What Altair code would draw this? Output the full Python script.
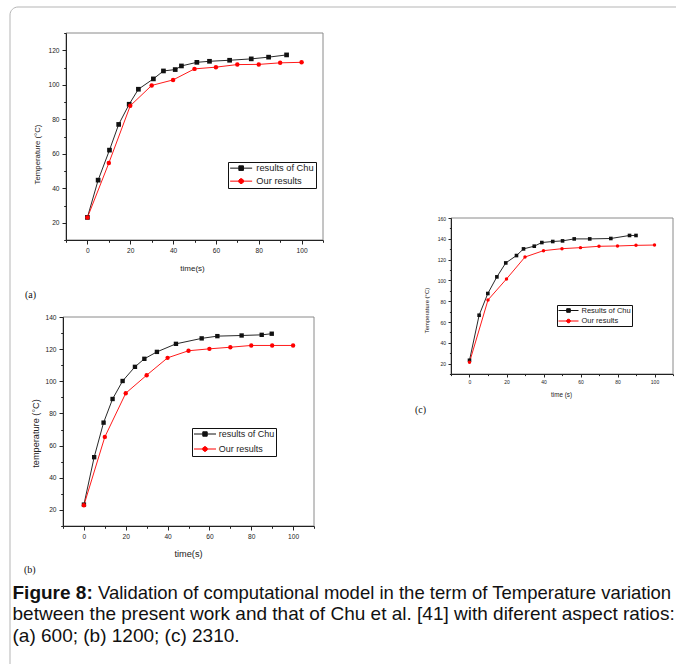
import altair as alt
import pandas as pd

# ---------------- data ----------------
NAMES_AB = ["results of Chu", "Our results"]
NAMES_C = ["Results of Chu", "Our results"]

a_chu_t = [0, 5.0, 10.3, 14.6, 19.5, 23.8, 30.8, 35.5, 41.0, 43.9, 51.1, 57.0, 66.4, 76.5, 84.6, 93.0]
a_chu_T = [23.1, 44.7, 62.1, 77.0, 88.7, 97.4, 103.4, 108.0, 108.8, 110.9, 113.0, 113.6, 114.2, 115.0, 116.0, 117.3]
a_our_t = [0, 10, 20, 30, 40, 50, 60, 70, 80, 90, 100]
a_our_T = [23.0, 54.6, 87.8, 99.6, 102.8, 109.2, 110.2, 111.7, 111.8, 112.7, 113.0]

b_chu_t = [0, 4.9, 9.4, 13.7, 18.5, 24.4, 28.9, 34.9, 44.0, 56.3, 63.8, 75.4, 85.0, 89.8]
b_chu_T = [23.3, 52.8, 74.3, 89.0, 100.2, 109.0, 114.0, 118.3, 123.3, 126.7, 128.1, 128.5, 128.9, 129.6]
b_our_t = [0, 10, 20, 30, 40, 50, 60, 70, 80, 90, 100]
b_our_T = [22.9, 65.4, 92.6, 103.8, 114.6, 119.0, 120.2, 121.2, 122.3, 122.3, 122.3]

c_chu_t = [0, 5.2, 9.9, 14.8, 19.6, 25.4, 29.2, 35.0, 39.1, 45.0, 50.3, 56.6, 65.0, 76.4, 86.5, 90.0]
c_chu_T = [23.2, 66.5, 87.4, 103.4, 116.8, 123.9, 130.3, 132.9, 136.4, 137.4, 138.0, 139.9, 139.9, 140.3, 143.2, 143.2]
c_our_t = [0, 10, 20, 30, 40, 50, 60, 70, 80, 90, 100]
c_our_T = [21.3, 81.2, 101.4, 122.5, 128.6, 130.5, 131.5, 132.8, 133.1, 133.7, 134.0]

X_DOMAIN = [-10, 110]
YDOM_A = [10, 130]
YDOM_B = [10, 140]
YDOM_C = [10, 160]

CAPTION_BOLD = "Figure 8:"
CAPTION_1 = "Validation of computational model in the term of Temperature variation"
CAPTION_2 = "between the present work and that of Chu et al. [41] with diferent aspect ratios:"
CAPTION_3 = "(a) 600; (b) 1200; (c) 2310."

# ---------------- styling ----------------
FONT = "Liberation Sans, Arial, sans-serif"
SERIF = "Liberation Serif, Times New Roman, serif"
INK = "#222222"
BLACK = "#111111"
RED = "#ff0000"
W, H = 676, 664
DUMMY = pd.DataFrame({"k": [0]})


def legend_paths(L, h_sq, r_oct, unit=4.0):
    end = (L - unit) / unit
    cx = (L / 2 - unit) / unit
    h = h_sq / unit
    sq = f"M-1,0H{end:.3f}M{cx - h:.3f},{-h:.3f}H{cx + h:.3f}V{h:.3f}H{cx - h:.3f}Z"
    r = r_oct / unit
    a, b = 0.924 * r, 0.383 * r
    pts = [(a, b), (b, a), (-b, a), (-a, b), (-a, -b), (-b, -a), (b, -a), (a, -b)]
    oc = "M-1,0H%.3f" % end + "M" + "L".join(f"{cx + px:.3f},{py:.3f}" for px, py in pts) + "Z"
    return sq, oc


def panel(cfg):
    xs = alt.Scale(domain=X_DOMAIN, range=cfg["xr"], nice=False, zero=False)
    ys = alt.Scale(domain=cfg["ydom"], range=cfg["yr"], nice=False, zero=False)
    x_off = -(H - cfg["yr"][0])
    y_off = -cfg["xr"][0]
    common = dict(labelFont=FONT, labelColor=INK, labelFontSize=cfg["lfs"],
                  domainColor=INK, tickColor=INK, domainWidth=1, tickWidth=1,
                  grid=False, labelOverlap=False, labelFlush=False, zindex=1,
                  titleFont=FONT, titleColor=INK, titleFontWeight="normal")
    lo, hi = cfg["ydom"]
    y_major = [v for v in range(lo, hi + 1, 10) if v % 20 == 0]
    y_minor = [v for v in range(lo, hi + 1, 10) if v % 20 != 0]
    x_major = [0, 20, 40, 60, 80, 100]
    x_minor = [-10, 10, 30, 50, 70, 90, 110]

    ax_x = alt.Axis(orient="bottom", offset=x_off, values=x_major, tickSize=cfg["tmaj"],
                    labelPadding=cfg["lpad"], title=cfg["xtitle"], titleFontSize=cfg["xtfs"],
                    titleX=cfg["xtx"], titleY=cfg["xty"], titleBaseline="alphabetic",
                    titleAlign="center", format="d", **common)
    ax_y = alt.Axis(orient="left", offset=y_off, values=y_major, tickSize=cfg["tmaj"],
                    labelPadding=cfg["lpad"], title=cfg["ytitle"], titleFontSize=cfg["ytfs"],
                    titleX=cfg["ytx"] - cfg["xr"][0], titleY=cfg["yty"], titleAngle=-90,
                    titleBaseline="middle", titleAlign="center", format="d", **common)
    ax_x_min = alt.Axis(orient="bottom", offset=x_off, values=x_minor, tickSize=cfg["tmin"],
                        labels=False, domain=False, title=None, tickColor=INK, tickWidth=1,
                        grid=False, zindex=1)
    ax_y_min = alt.Axis(orient="left", offset=y_off, values=y_minor, tickSize=cfg["tmin"],
                        labels=False, domain=False, title=None, tickColor=INK, tickWidth=1,
                        grid=False, zindex=1)

    chu = pd.DataFrame({"t": cfg["chu_t"], "T": cfg["chu_T"]})
    our = pd.DataFrame({"t": cfg["our_t"], "T": cfg["our_T"]})

    frame = alt.Chart(DUMMY).mark_rect(fillOpacity=0, stroke="#8a8a8a", strokeWidth=1).encode(
        x=alt.X(datum=X_DOMAIN[0], type="quantitative", scale=xs, axis=ax_x_min),
        x2=alt.X2(datum=X_DOMAIN[1]),
        y=alt.Y(datum=lo, type="quantitative", scale=ys, axis=ax_y_min),
        y2=alt.Y2(datum=hi),
    )
    line_chu = alt.Chart(chu).mark_line(color=BLACK, strokeWidth=0.9).encode(
        x=alt.X("t:Q", scale=xs, axis=ax_x), y=alt.Y("T:Q", scale=ys, axis=ax_y))
    line_our = alt.Chart(our).mark_line(color=RED, strokeWidth=0.9).encode(
        x=alt.X("t:Q", scale=xs, axis=None), y=alt.Y("T:Q", scale=ys, axis=None))
    pts_chu = alt.Chart(chu).mark_point(shape="square", filled=True, opacity=1,
                                        color=BLACK, size=cfg["msq"]).encode(
        x=alt.X("t:Q", scale=xs, axis=None), y=alt.Y("T:Q", scale=ys, axis=None))
    pts_our = alt.Chart(our).mark_point(shape="circle", filled=True, opacity=1,
                                        color=RED, size=cfg["mci"]).encode(
        x=alt.X("t:Q", scale=xs, axis=None), y=alt.Y("T:Q", scale=ys, axis=None))

    names = cfg["names"]
    L, gap = cfg["leg_L"], cfg["leg_gap"]
    sq, oc = legend_paths(L, cfg["leg_sq"], cfg["leg_oc"])
    leg = alt.Legend(orient="none", legendX=cfg["leg_x"], legendY=cfg["leg_y"], title=None,
                     direction="vertical", strokeColor="#111111", fillColor="white",
                     padding=cfg["leg_pad"], symbolSize=64, symbolStrokeWidth=1,
                     labelFont=FONT, labelFontSize=cfg["leg_fs"], labelColor=INK,
                     labelOffset=0.5 + L + gap - 9, rowPadding=cfg["leg_rp"],
                     labelLimit=0, cornerRadius=0)
    legend_layer = alt.Chart(pd.DataFrame({"series": names})).transform_filter("false").mark_point(
        filled=True, opacity=1, strokeWidth=1).encode(
        color=alt.Color("series:N", scale=alt.Scale(domain=names, range=[BLACK, RED]), legend=leg),
        stroke=alt.Stroke("series:N", scale=alt.Scale(domain=names, range=[BLACK, RED]), legend=leg),
        shape=alt.Shape("series:N", scale=alt.Scale(domain=names, range=[sq, oc]), legend=leg),
    )
    return alt.layer(frame, line_chu, line_our, pts_chu, pts_our, legend_layer).resolve_axis(
        x="independent", y="independent")


cfg_a = dict(chu_t=a_chu_t, chu_T=a_chu_T, our_t=a_our_t, our_T=a_our_T, names=NAMES_AB,
             xr=[66, 323], yr=[240, 33], ydom=YDOM_A, lfs=6.6, lpad=3, tmaj=4, tmin=2.3,
             xtitle="time(s)", xtfs=8, xtx=192, xty=30,
             ytitle="Temperature (°C)", ytfs=7.8, ytx=37, yty=154,
             msq=22, mci=20,
             leg_x=228, leg_y=162, leg_pad=1.5, leg_fs=9.3, leg_rp=3.0,
             leg_L=22, leg_gap=4, leg_sq=2.3, leg_oc=2.5)
cfg_b = dict(chu_t=b_chu_t, chu_T=b_chu_T, our_t=b_our_t, our_T=b_our_T, names=NAMES_AB,
             xr=[63, 314], yr=[526, 317], ydom=YDOM_B, lfs=6.6, lpad=3, tmaj=4, tmin=2.3,
             xtitle="time(s)", xtfs=9.2, xtx=188, xty=30,
             ytitle="temperature (°C)", ytfs=9.2, ytx=35, yty=433,
             msq=19, mci=19,
             leg_x=192, leg_y=428, leg_pad=1.5, leg_fs=9, leg_rp=5.0,
             leg_L=22, leg_gap=2.7, leg_sq=2.2, leg_oc=2.4)
cfg_c = dict(chu_t=c_chu_t, chu_T=c_chu_T, our_t=c_our_t, our_T=c_our_T, names=NAMES_C,
             xr=[451, 673], yr=[374, 218], ydom=YDOM_C, lfs=5, lpad=2.5, tmaj=3, tmin=1.6,
             xtitle="time (s)", xtfs=6.3, xtx=561, xty=22,
             ytitle="Temperature (°C)", ytfs=5.9, ytx=426.5, yty=310,
             msq=13, mci=12,
             leg_x=557, leg_y=305, leg_pad=1, leg_fs=7.5, leg_rp=1.5,
             leg_L=20, leg_gap=3, leg_sq=1.8, leg_oc=1.9)


def text_at(txt, x, y, size, font=FONT, weight="normal", color="#111111"):
    return alt.Chart(DUMMY).mark_text(align="left", baseline="alphabetic", font=font,
                                      fontSize=size, fontWeight=weight, color=color).encode(
        x=alt.value(x), y=alt.value(y), text=alt.value(txt))


border = alt.Chart(DUMMY).mark_rect(fillOpacity=0, stroke="#b5b5b5", strokeWidth=1,
                                    cornerRadius=8).encode(
    x=alt.value(10), x2=alt.value(720), y=alt.value(7), y2=alt.value(720))

deco = [
    text_at(CAPTION_BOLD, 12.5, 598.5, 19, weight="bold"),
    text_at(CAPTION_1, 98, 598.5, 18.5),
    text_at(CAPTION_2, 12.5, 620, 19),
    text_at(CAPTION_3, 12.5, 641.5, 19),
    text_at("(a)", 25, 298, 10, font=SERIF),
    text_at("(b)", 24, 573, 10, font=SERIF),
    text_at("(c)", 415, 413, 10, font=SERIF),
]

chart = alt.layer(border, panel(cfg_a), panel(cfg_b), panel(cfg_c), *deco).resolve_scale(
    x="independent", y="independent", color="independent", stroke="independent",
    shape="independent").properties(
    width=W, height=H, autosize=alt.AutoSizeParams(type="none"), padding=0,
    background="white").configure_view(stroke=None)

chart.save("out.html", embed_options={"renderer": "svg", "actions": False})
